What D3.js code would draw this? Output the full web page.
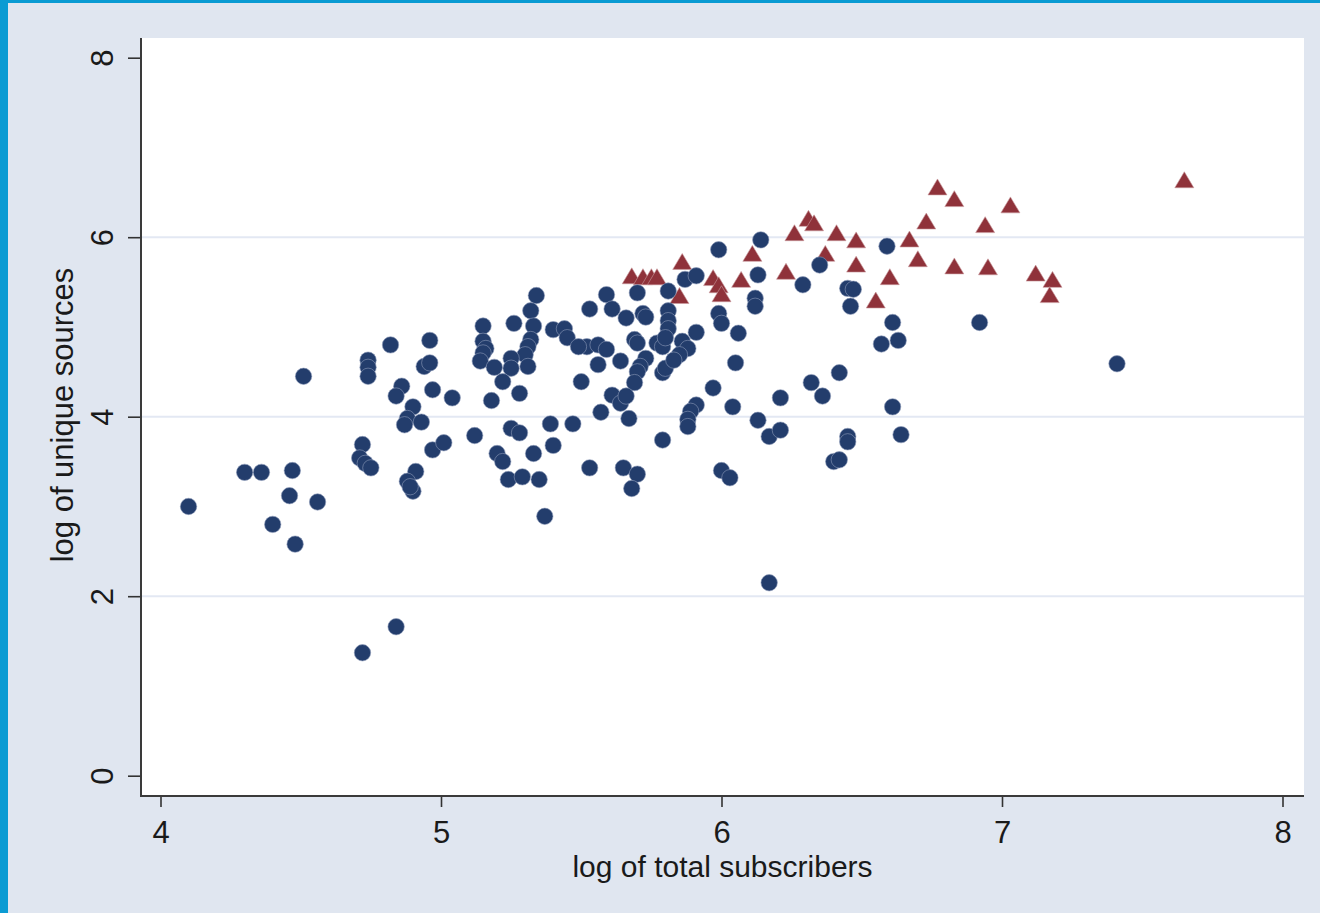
<!DOCTYPE html>
<html>
<head>
<meta charset="utf-8">
<script src="https://cdn.jsdelivr.net/npm/d3@7"></script>
<style>
  html, body { margin: 0; padding: 0; background: #e0e6f0; }
  svg { display: block; }
  text { font-family: "Liberation Sans", Arial, sans-serif; fill: #1a1a1a; }
</style>
</head>
<body>
<script>
// Log of total subscribers vs. log of unique sources, two groups of outlets
const xTicks = [4, 5, 6, 7, 8];
const yTicks = [0, 2, 4, 6, 8];
const gridValues = [2, 4, 6];
const xTitle = "log of total subscribers";
const yTitle = "log of unique sources";

// group 1 (navy circles)
const blueSubs = [
  4.10, 4.30, 4.36, 4.47, 4.46, 4.56, 4.40, 4.48, 4.51, 4.74,
  4.74, 4.74, 4.82, 4.96, 4.94, 4.96, 4.97, 5.04, 4.86, 4.84,
  4.90, 4.88, 4.87, 4.93, 4.72, 4.71, 4.73, 4.75, 4.97, 5.01,
  4.91, 4.88, 4.90, 4.89, 4.84, 4.72, 5.34, 5.32, 5.15, 5.26,
  5.33, 5.40, 5.44, 5.45, 5.15, 5.16, 5.15, 5.32, 5.31, 5.30,
  5.14, 5.19, 5.25, 5.25, 5.31, 5.22, 5.28, 5.18, 5.53, 5.59,
  5.61, 5.66, 5.70, 5.72, 5.73, 5.81, 5.81, 5.81, 5.81, 5.87,
  5.91, 5.52, 5.56, 5.59, 5.49, 5.56, 5.64, 5.69, 5.70, 5.73,
  5.71, 5.70, 5.77, 5.79, 5.80, 5.69, 5.50, 5.61, 5.64, 5.66,
  5.57, 5.67, 5.79, 5.80, 5.86, 5.88, 5.85, 5.83, 5.91, 5.99,
  6.00, 6.06, 6.05, 5.97, 6.04, 5.91, 5.89, 5.88, 5.88, 5.79,
  5.12, 5.25, 5.28, 5.39, 5.47, 5.40, 5.33, 5.20, 5.22, 5.24,
  5.29, 5.35, 5.53, 5.65, 5.70, 5.68, 6.00, 6.03, 5.37, 5.99,
  6.14, 6.13, 6.12, 6.12, 6.29, 6.35, 6.45, 6.47, 6.46, 6.59,
  6.61, 6.57, 6.63, 6.42, 6.32, 6.36, 6.21, 6.13, 6.17, 6.21,
  6.45, 6.45, 6.40, 6.42, 6.61, 6.64, 6.92, 7.41, 6.17
];
const blueSources = [
  3.00, 3.38, 3.38, 3.40, 3.12, 3.05, 2.80, 2.58, 4.45, 4.63,
  4.55, 4.45, 4.80, 4.85, 4.56, 4.60, 4.30, 4.21, 4.34, 4.23,
  4.11, 3.98, 3.91, 3.94, 3.69, 3.54, 3.48, 3.43, 3.63, 3.71,
  3.39, 3.28, 3.17, 3.22, 1.66, 1.37, 5.35, 5.18, 5.01, 5.04,
  5.01, 4.97, 4.98, 4.88, 4.84, 4.76, 4.71, 4.86, 4.78, 4.69,
  4.62, 4.55, 4.65, 4.54, 4.56, 4.39, 4.26, 4.18, 5.20, 5.36,
  5.20, 5.10, 5.38, 5.15, 5.11, 5.40, 5.18, 5.07, 4.98, 5.53,
  5.57, 4.78, 4.80, 4.75, 4.78, 4.58, 4.62, 4.86, 4.82, 4.65,
  4.56, 4.50, 4.82, 4.78, 4.88, 4.38, 4.39, 4.24, 4.15, 4.23,
  4.05, 3.98, 4.49, 4.54, 4.84, 4.76, 4.69, 4.63, 4.94, 5.15,
  5.04, 4.93, 4.60, 4.32, 4.11, 4.13, 4.06, 3.97, 3.89, 3.74,
  3.79, 3.87, 3.82, 3.92, 3.92, 3.68, 3.59, 3.59, 3.50, 3.30,
  3.33, 3.30, 3.43, 3.43, 3.36, 3.20, 3.40, 3.32, 2.89, 5.86,
  5.97, 5.58, 5.32, 5.23, 5.47, 5.69, 5.43, 5.42, 5.23, 5.90,
  5.05, 4.81, 4.85, 4.49, 4.38, 4.23, 4.21, 3.96, 3.78, 3.85,
  3.78, 3.72, 3.50, 3.52, 4.11, 3.80, 5.05, 4.59, 2.15
];

// group 2 (maroon triangles)
const redSubs = [
  5.68, 5.72, 5.75, 5.77, 5.86, 5.85, 5.97, 5.99, 6.00, 6.07,
  6.11, 6.23, 6.26, 6.31, 6.33, 6.37, 6.41, 6.48, 6.48, 6.60,
  6.55, 6.77, 6.83, 7.03, 6.73, 6.94, 6.67, 6.70, 6.83, 6.95,
  7.12, 7.18, 7.17, 7.65
];
const redSources = [
  5.57, 5.56, 5.56, 5.56, 5.73, 5.35, 5.55, 5.47, 5.37, 5.53,
  5.82, 5.62, 6.05, 6.21, 6.16, 5.82, 6.05, 5.97, 5.70, 5.56,
  5.30, 6.56, 6.43, 6.36, 6.18, 6.14, 5.98, 5.76, 5.68, 5.67,
  5.60, 5.53, 5.36, 6.64
];

const W = 1320, H = 913;
const plot = { left: 141, right: 1304, top: 38, bottom: 796 };

const svg = d3.select("body").append("svg").attr("width", W).attr("height", H);

// page background and the blue window edge
svg.append("rect").attr("width", W).attr("height", H).attr("fill", "#e0e6f0");
svg.append("rect").attr("x", 0).attr("y", 0).attr("width", 8).attr("height", H).attr("fill", "#0a9bd3");
svg.append("rect").attr("x", 0).attr("y", 0).attr("width", W).attr("height", 3).attr("fill", "#0a9bd3");

const x = d3.scaleLinear().domain([4, 8]).range([160.5, 1282.5]);
const y = d3.scaleLinear().domain([0, 8]).range([775.7, 57.7]);

// plot region
svg.append("rect")
  .attr("x", plot.left).attr("y", plot.top)
  .attr("width", plot.right - plot.left).attr("height", plot.bottom - plot.top)
  .attr("fill", "#ffffff");

// horizontal grid
svg.append("g").selectAll("line").data(gridValues).join("line")
  .attr("x1", plot.left + 1).attr("x2", plot.right)
  .attr("y1", d => y(d)).attr("y2", d => y(d))
  .attr("stroke", "#e3e8f3").attr("stroke-width", 2);

// markers: triangles first, circles on top
const triShape = {
  draw(ctx, size) {
    const w = Math.sqrt(size);
    const h = w * 0.84;
    ctx.moveTo(0, -h / 2);
    ctx.lineTo(w / 2, h / 2);
    ctx.lineTo(-w / 2, h / 2);
    ctx.closePath();
  }
};
const tri = d3.symbol().type(triShape).size(19 * 19)();

svg.append("g").selectAll("path").data(d3.range(redSubs.length)).join("path")
  .attr("d", tri)
  .attr("transform", i => `translate(${x(redSubs[i])},${y(redSources[i])})`)
  .attr("fill", "#8f323a")
  .attr("stroke", "#c99a9e").attr("stroke-width", 0.6);

svg.append("g").selectAll("circle").data(d3.range(blueSubs.length)).join("circle")
  .attr("cx", i => x(blueSubs[i]))
  .attr("cy", i => y(blueSources[i]))
  .attr("r", 8.2)
  .attr("fill", "#233d6c")
  .attr("stroke", "#8d9bb8").attr("stroke-width", 0.6);

// axes
const xAxis = svg.append("g")
  .attr("transform", `translate(0,${plot.bottom})`)
  .call(d3.axisBottom(x).tickValues(xTicks).tickSize(11).tickFormat(d3.format("d")));
xAxis.select(".domain").remove();
xAxis.selectAll(".tick line").attr("stroke", "#333").attr("stroke-width", 1.6);
xAxis.selectAll(".tick text")
  .attr("y", 47).attr("dy", 0)
  .style("font-size", "31px").style("font-family", "'Liberation Sans', Arial, sans-serif")
  .attr("fill", "#1a1a1a");

const yAxis = svg.append("g")
  .attr("transform", `translate(${plot.left},0)`)
  .call(d3.axisLeft(y).tickValues(yTicks).tickSize(13).tickFormat(d3.format("d")));
yAxis.select(".domain").remove();
yAxis.selectAll(".tick line").attr("stroke", "#333").attr("stroke-width", 1.6);
yAxis.selectAll(".tick text")
  .attr("x", 0).attr("y", -28.5).attr("dy", 0)
  .attr("transform", "rotate(-90)")
  .attr("text-anchor", "middle")
  .style("font-size", "31px").style("font-family", "'Liberation Sans', Arial, sans-serif")
  .attr("fill", "#1a1a1a");

// axis lines along the plot frame
svg.append("line")
  .attr("x1", plot.left).attr("x2", plot.left)
  .attr("y1", plot.top).attr("y2", plot.bottom + 1)
  .attr("stroke", "#3a3a3a").attr("stroke-width", 2);
svg.append("line")
  .attr("x1", plot.left).attr("x2", plot.right)
  .attr("y1", plot.bottom).attr("y2", plot.bottom)
  .attr("stroke", "#3a3a3a").attr("stroke-width", 2);

// titles
svg.append("text")
  .attr("x", (plot.left + plot.right) / 2).attr("y", 877)
  .attr("text-anchor", "middle")
  .style("font-size", "30px")
  .text(xTitle);

svg.append("text")
  .attr("transform", `translate(73,415) rotate(-90)`)
  .attr("text-anchor", "middle")
  .style("font-size", "31px")
  .text(yTitle);
</script>
</body>
</html>
